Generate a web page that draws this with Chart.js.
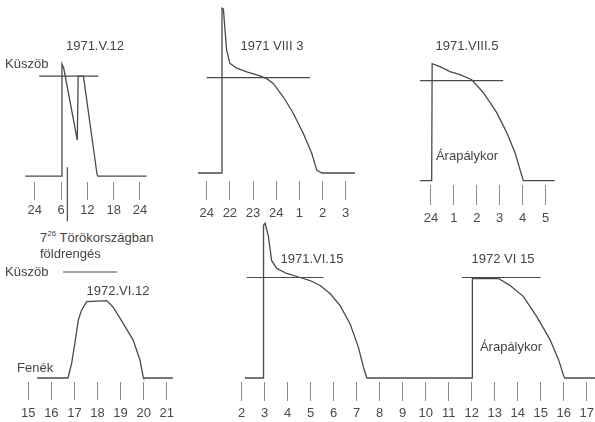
<!DOCTYPE html>
<html>
<head>
<meta charset="utf-8">
<script src="https://cdn.jsdelivr.net/npm/chart.js@4/dist/chart.umd.min.js"></script>
<style>
  html, body { margin: 0; padding: 0; background: #fff; }
  body { width: 595px; height: 422px; position: relative; overflow: hidden;
         font-family: "Liberation Sans", Arial, sans-serif; color: #444; }
  canvas { position: absolute; }
  .t { position: absolute; font-size: 13px; white-space: nowrap; line-height: 1; }
  .c { transform: translate(-50%, -50%); }
  .l { transform: translateY(-50%); }
  sup { font-size: 8px; vertical-align: 6px; }
</style>
</head>
<body>
<canvas id="may12"></canvas>
<canvas id="aug3"></canvas>
<canvas id="aug5"></canvas>
<canvas id="jun12"></canvas>
<canvas id="jun15"></canvas>

<div class="t c" style="left:95px; top:45px;">1971.V.12</div>
<div class="t l" style="left:5px; top:63px;">Küszöb</div>
<div class="t c" style="left:272px; top:45px;">1971 VIII 3</div>
<div class="t c" style="left:467px; top:45px;">1971.VIII.5</div>
<div class="t c" style="left:467px; top:155px;">Árapálykor</div>
<div class="t l" style="left:40px; top:237px;">7<sup>26</sup> Törökországban</div>
<div class="t l" style="left:40px; top:253px;">földrengés</div>
<div class="t l" style="left:5px; top:271px;">Küszöb</div>
<div class="t c" style="left:118px; top:290px;">1972.VI.12</div>
<div class="t l" style="left:17px; top:367px;">Fenék</div>
<div class="t c" style="left:312px; top:258px;">1971.VI.15</div>
<div class="t c" style="left:503px; top:258px;">1972 VI 15</div>
<div class="t c" style="left:511px; top:346px;">Árapálykor</div>

<script>
// Water level relative to the bottom (0) and the threshold "Küszöb" (1), by hour.

// 1971.V.12 — hours from the previous midnight
const may12Hours = [-2.2, 6.1, 6.2, 6.6, 9.7, 9.9, 11.1, 14.2, 14.4, 25.5];
const may12Level = [0, 0, 1.12, 1.08, 0.36, 1.0, 1.0, 0.02, 0, 0];
const may12Ticks = [0, 6, 12, 18, 24];
const may12TickLabels = ['24', '6', '12', '18', '24'];
const may12Threshold = [1.0, 14.5];
const quakeHour = 7.43;

// 1971 VIII 3 — hours counted from the first tick
const aug3Hours = [-0.38, 0.65, 0.66, 0.72, 0.86, 1.0, 1.3, 1.73, 2.3, 2.59, 2.87, 3.3, 3.73, 4.16, 4.53, 4.75, 4.97, 6.4];
const aug3Level = [0, 0, 1.73, 1.72, 1.29, 1.15, 1.1, 1.06, 1.02, 0.99, 0.94, 0.8, 0.63, 0.42, 0.21, 0.03, 0, 0];
const aug3Ticks = [0, 1, 2, 3, 4, 5, 6];
const aug3TickLabels = ['24', '22', '23', '24', '1', '2', '3'];
const aug3Threshold = [0, 4.46];

// 1971.VIII.5 — hours after midnight
const aug5Hours = [-0.48, 0.03, 0.05, 0.39, 0.83, 1.27, 1.78, 2.29, 2.87, 3.31, 3.67, 4.03, 5.4];
const aug5Level = [0, 0, 1.17, 1.14, 1.09, 1.06, 1.01, 0.88, 0.68, 0.48, 0.28, 0, 0];
const aug5Ticks = [0, 1, 2, 3, 4, 5];
const aug5TickLabels = ['24', '1', '2', '3', '4', '5'];
const aug5Threshold = [-0.48, 3.15];

// 1972.VI.12
const jun12Hours = [15.38, 16.72, 16.88, 17.02, 17.17, 17.31, 17.53, 18.4, 18.67, 19.1, 19.54, 19.84, 19.98, 20.0, 21.27];
const jun12Level = [0, 0, 0.14, 0.33, 0.55, 0.64, 0.72, 0.73, 0.67, 0.52, 0.36, 0.17, 0.01, 0, 0];
const jun12Ticks = [15, 16, 17, 18, 19, 20, 21];
const jun12TickLabels = ['15', '16', '17', '18', '19', '20', '21'];
const jun12Threshold = [16.51, 18.85];

// 1971.VI.15 and 1972 VI 15 on a common hour axis
const jun15aHours = [2.14, 2.94, 2.95, 3.02, 3.16, 3.3, 3.52, 3.96, 4.54, 4.97, 5.41, 5.84, 6.28, 6.71, 7.07, 7.29, 7.44, 12.02];
const jun15aLevel = [0, 0, 1.52, 1.54, 1.41, 1.17, 1.09, 1.04, 1.0, 0.97, 0.92, 0.84, 0.72, 0.54, 0.31, 0.11, 0, 0];
const jun15bHours = [12.02, 12.03, 13.16, 13.67, 14.25, 14.83, 15.41, 15.78, 16.0, 16.05, 17.6];
const jun15bLevel = [0, 0.99, 0.99, 0.92, 0.81, 0.61, 0.38, 0.18, 0.02, 0, 0];
const jun15Ticks = [2, 3, 4, 5, 6, 7, 8, 9, 10, 11, 12, 13, 14, 15, 16, 17];
const jun15TickLabels = ['2', '3', '4', '5', '6', '7', '8', '9', '10', '11', '12', '13', '14', '15', '16', '17'];
const jun15aThreshold = [2.22, 5.55];
const jun15bThreshold = [11.58, 15.0];

const INK = '#4a4a4a';
const TICK = '#8a8a8a';
const AXIS_H = 44;

const pts = (xs, ys) => xs.map((x, i) => ({ x, y: ys[i] }));
const curve = (xs, ys) => ({ data: pts(xs, ys), borderColor: INK, borderWidth: 1.3, pointRadius: 0, showLine: true });
const threshold = span => ({ data: span.map(x => ({ x, y: 1 })), borderColor: INK, borderWidth: 1.2, pointRadius: 0, showLine: true });

function panel(id, s, datasets) {
  const canvas = document.getElementById(id);
  const h = s.bottom - s.top + AXIS_H;
  canvas.width = s.width; canvas.height = h;
  canvas.style.left = s.left + 'px'; canvas.style.top = s.top + 'px';
  canvas.style.width = s.width + 'px'; canvas.style.height = h + 'px';
  const xmin = s.x0 + (s.left - s.x0px) / s.pxPerX;
  const xmax = s.x0 + (s.left + s.width - s.x0px) / s.pxPerX;
  const ymax = (s.y0px - s.top) / s.pxPerY;
  const ymin = (s.y0px - s.bottom) / s.pxPerY;
  new Chart(canvas, {
    type: 'scatter',
    data: { datasets },
    options: {
      responsive: false, animation: false, devicePixelRatio: 1,
      layout: { padding: 0 },
      plugins: { legend: { display: false }, tooltip: { enabled: false } },
      scales: {
        x: {
          type: 'linear', min: xmin, max: xmax,
          afterBuildTicks: sc => { sc.ticks = s.ticks.map(v => ({ value: v })); },
          afterFit: sc => { sc.height = AXIS_H; sc.paddingLeft = 0; sc.paddingRight = 0; },
          ticks: {
            autoSkip: false, maxRotation: 0, padding: s.labelPad, color: INK,
            font: { family: '"Liberation Sans", Arial, sans-serif', size: 13 },
            callback: (v, i) => s.labels[i]
          },
          grid: { drawOnChartArea: false, drawTicks: true, tickLength: s.tickLen, tickColor: TICK, tickWidth: 1 },
          border: { display: false }
        },
        y: { type: 'linear', min: ymin, max: ymax, display: false }
      }
    }
  });
}

panel('may12', { left: 10, top: 25, width: 150, bottom: 182, x0: 0, x0px: 32, pxPerX: 4.625, y0px: 176, pxPerY: 102.7,
  ticks: may12Ticks, labels: may12TickLabels, tickLen: 18, labelPad: 3 }, [
  curve(may12Hours, may12Level),
  threshold(may12Threshold),
  { data: [{ x: quakeHour, y: 0.09 }, { x: quakeHour, y: -0.45 }], borderColor: INK, borderWidth: 1.2, showLine: true, clip: false,
    pointRadius: [0, 2.5], pointStyle: 'triangle', rotation: 180, pointBackgroundColor: INK, pointBorderWidth: 0 }
]);

panel('aug3', { left: 185, top: 0, width: 180, bottom: 181, x0: 0, x0px: 206.7, pxPerX: 23.17, y0px: 173, pxPerY: 95.3,
  ticks: aug3Ticks, labels: aug3TickLabels, tickLen: 19, labelPad: 6 }, [
  curve(aug3Hours, aug3Level),
  threshold(aug3Threshold)
]);

panel('aug5', { left: 405, top: 20, width: 160, bottom: 185, x0: 0, x0px: 431, pxPerX: 22.9, y0px: 180.7, pxPerY: 100,
  ticks: aug5Ticks, labels: aug5TickLabels, tickLen: 20, labelPad: 6 }, [
  curve(aug5Hours, aug5Level),
  threshold(aug5Threshold)
]);

panel('jun12', { left: 10, top: 255, width: 175, bottom: 382, x0: 15, x0px: 28.3, pxPerX: 23.07, y0px: 378, pxPerY: 106,
  ticks: jun12Ticks, labels: jun12TickLabels, tickLen: 18, labelPad: 6 }, [
  curve(jun12Hours, jun12Level),
  threshold(jun12Threshold)
]);

panel('jun15', { left: 225, top: 200, width: 380, bottom: 382, x0: 2, x0px: 241.7, pxPerX: 23, y0px: 378, pxPerY: 100.5,
  ticks: jun15Ticks, labels: jun15TickLabels, tickLen: 19, labelPad: 5 }, [
  curve(jun15aHours, jun15aLevel),
  curve(jun15bHours, jun15bLevel),
  threshold(jun15aThreshold),
  threshold(jun15bThreshold)
]);
</script>
</body>
</html>
